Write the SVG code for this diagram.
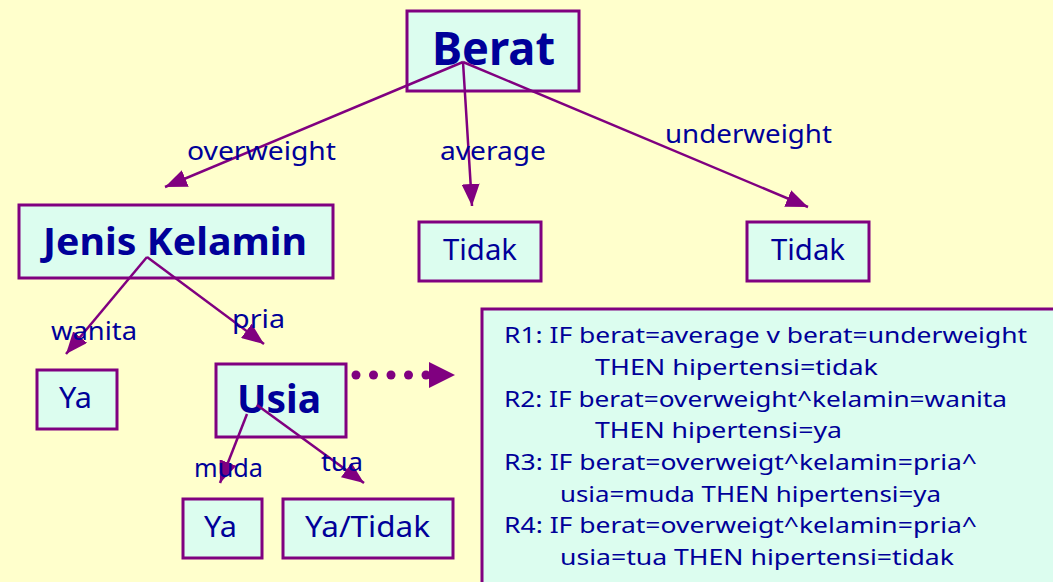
<svg xmlns="http://www.w3.org/2000/svg" width="1053" height="582" viewBox="0 0 1053 582">
  <style>
    .box { fill: #dcfdef; stroke: #800080; stroke-width: 3; }
    .t { font-family: "Noto Sans", "DejaVu Sans", sans-serif; fill: #000099; }
    .big { font-weight: bold; }
    .lbl { font-size: 25px; }
    .leaf { font-size: 29px; }
    .rule { font-size: 22px; }
    .edge { stroke: #800080; stroke-width: 2.5; fill: none; marker-end: url(#head); }
  </style>
  <defs>
    <marker id="head" markerUnits="userSpaceOnUse" markerWidth="24" markerHeight="18" refX="22" refY="9" orient="auto">
      <path d="M0,0 L22,9 L0,18 z" fill="#800080"/>
    </marker>
  </defs>

  <rect width="1053" height="582" fill="#ffffcc"/>

  <g id="node-berat">
    <rect class="box" x="407" y="11" width="172" height="80"/>
    <text class="t big" x="432" y="65" font-size="46" textLength="123" lengthAdjust="spacingAndGlyphs">Berat</text>
  </g>
  <g id="node-jenis-kelamin">
    <rect class="box" x="19" y="205" width="314" height="73"/>
    <text class="t big" x="43" y="255" font-size="38" textLength="264" lengthAdjust="spacingAndGlyphs">Jenis Kelamin</text>
  </g>
  <g id="node-tidak-average">
    <rect class="box" x="419" y="222" width="122" height="59"/>
    <text class="t leaf" x="443" y="260" textLength="74" lengthAdjust="spacingAndGlyphs">Tidak</text>
  </g>
  <g id="node-tidak-underweight">
    <rect class="box" x="747" y="222" width="122" height="59"/>
    <text class="t leaf" x="771" y="260" textLength="74" lengthAdjust="spacingAndGlyphs">Tidak</text>
  </g>
  <g id="node-ya-wanita">
    <rect class="box" x="37" y="370" width="80" height="59"/>
    <text class="t leaf" x="59" y="408" textLength="33" lengthAdjust="spacingAndGlyphs">Ya</text>
  </g>
  <g id="node-usia">
    <rect class="box" x="216" y="364" width="130" height="73"/>
    <text class="t big" x="237" y="413" font-size="40" textLength="84" lengthAdjust="spacingAndGlyphs">Usia</text>
  </g>
  <g id="node-ya-muda">
    <rect class="box" x="183" y="499" width="79" height="59"/>
    <text class="t leaf" x="204" y="537" textLength="33" lengthAdjust="spacingAndGlyphs">Ya</text>
  </g>
  <g id="node-ya-tidak-tua">
    <rect class="box" x="283" y="499" width="170" height="59"/>
    <text class="t leaf" x="305" y="537" textLength="125" lengthAdjust="spacingAndGlyphs">Ya/Tidak</text>
  </g>

  <g id="node-rules">
    <rect class="box" x="482" y="309" width="600" height="300"/>
    <text class="t rule" x="504" y="343" textLength="523" lengthAdjust="spacingAndGlyphs">R1: IF berat=average v berat=underweight</text>
    <text class="t rule" x="595" y="375" textLength="283" lengthAdjust="spacingAndGlyphs">THEN hipertensi=tidak</text>
    <text class="t rule" x="504" y="407" textLength="503" lengthAdjust="spacingAndGlyphs">R2: IF berat=overweight^kelamin=wanita</text>
    <text class="t rule" x="595" y="438" textLength="247" lengthAdjust="spacingAndGlyphs">THEN hipertensi=ya</text>
    <text class="t rule" x="504" y="470" textLength="473" lengthAdjust="spacingAndGlyphs">R3: IF berat=overweigt^kelamin=pria^</text>
    <text class="t rule" x="560" y="502" textLength="381" lengthAdjust="spacingAndGlyphs">usia=muda THEN hipertensi=ya</text>
    <text class="t rule" x="504" y="533" textLength="473" lengthAdjust="spacingAndGlyphs">R4: IF berat=overweigt^kelamin=pria^</text>
    <text class="t rule" x="560" y="565" textLength="394" lengthAdjust="spacingAndGlyphs">usia=tua THEN hipertensi=tidak</text>
  </g>

  <g id="connectors">
    <line class="edge" x1="463" y1="62" x2="165" y2="187"/>
    <line class="edge" x1="463" y1="62" x2="472" y2="206"/>
    <line class="edge" x1="463" y1="62" x2="808" y2="207"/>
    <line class="edge" x1="147" y1="257" x2="66" y2="354"/>
    <line class="edge" x1="147" y1="257" x2="264" y2="344"/>
    <line class="edge" x1="247" y1="414" x2="220" y2="483"/>
    <line class="edge" x1="257" y1="405" x2="364" y2="483"/>
    <g fill="#800080">
      <circle cx="356" cy="375" r="4.5"/>
      <circle cx="373.5" cy="375" r="4.5"/>
      <circle cx="391" cy="375" r="4.5"/>
      <circle cx="408.5" cy="375" r="4.5"/>
      <circle cx="426" cy="375" r="4.5"/>
      <path d="M429,362 L455,375 L429,388 z"/>
    </g>
  </g>

  <g id="edge-labels">
    <text class="t lbl" x="187" y="160" textLength="149" lengthAdjust="spacingAndGlyphs">overweight</text>
    <text class="t lbl" x="440" y="160" textLength="106" lengthAdjust="spacingAndGlyphs">average</text>
    <text class="t lbl" x="665" y="143" textLength="167" lengthAdjust="spacingAndGlyphs">underweight</text>
    <text class="t lbl" x="51" y="340" textLength="86" lengthAdjust="spacingAndGlyphs">wanita</text>
    <text class="t lbl" x="232" y="328" textLength="53" lengthAdjust="spacingAndGlyphs">pria</text>
    <text class="t lbl" x="194" y="477" textLength="69" lengthAdjust="spacingAndGlyphs">muda</text>
    <text class="t lbl" x="321" y="471" textLength="42" lengthAdjust="spacingAndGlyphs">tua</text>
  </g>
</svg>
